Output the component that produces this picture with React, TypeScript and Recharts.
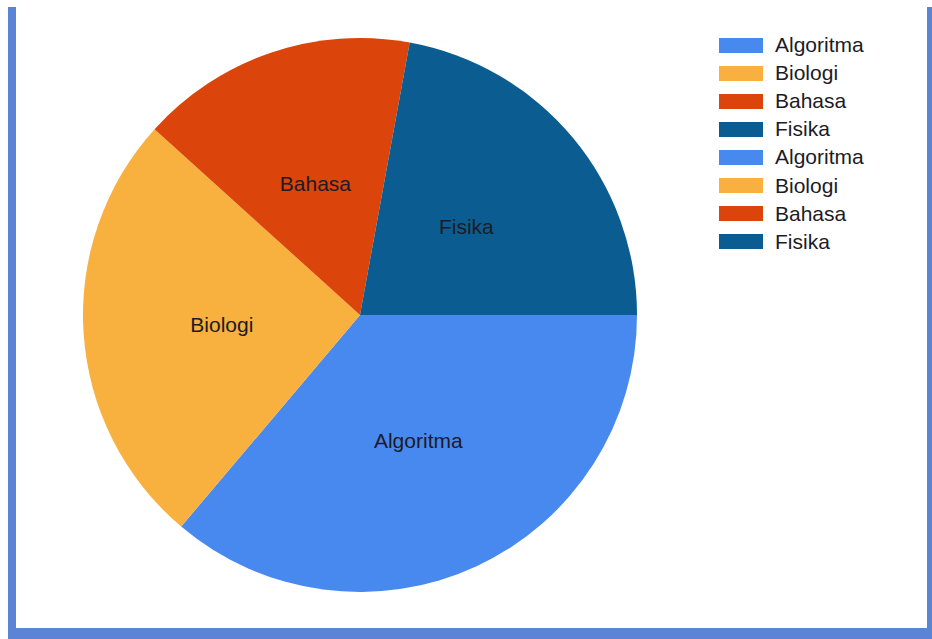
import { PieChart, Pie, Cell, Legend } from "recharts";

const subjects = ["Algoritma", "Biologi", "Bahasa", "Fisika"];
const scores = [85, 60, 38, 52];
const sliceColors = ["#4889F0", "#F8B03E", "#DB440B", "#0B5D91"];

// the legend in the picture lists every subject twice
const legendNames = [...subjects, ...subjects];
const legendColors = [...sliceColors, ...sliceColors];

const pieData = subjects.map((name, i) => ({ name, value: scores[i] }));

const FRAME = "#5B84D5";
const FONT = "'Liberation Sans', Arial, sans-serif";
const RAD = Math.PI / 180;

const renderLabel = (props: any) => {
  const { cx, cy, midAngle, outerRadius, name } = props;
  const r = outerRadius * 0.5;
  const x = cx + r * Math.cos(-midAngle * RAD);
  const y = cy + r * Math.sin(-midAngle * RAD);
  return (
    <text
      x={x}
      y={y}
      textAnchor="middle"
      dominantBaseline="central"
      fill="#1c1c24"
      fontSize={21}
      fontFamily={FONT}
    >
      {name}
    </text>
  );
};

const SubjectLegend = () => (
  <div style={{ fontFamily: FONT, fontSize: 21, color: "#1c1c24" }}>
    {legendNames.map((name, i) => (
      <div
        key={i}
        style={{ display: "flex", alignItems: "center", height: 28.1 }}
      >
        <span
          style={{
            display: "inline-block",
            width: 44,
            height: 15,
            backgroundColor: legendColors[i],
            marginRight: 12,
          }}
        />
        {name}
      </div>
    ))}
  </div>
);

export default function App() {
  return (
    <div
      style={{
        position: "absolute",
        left: 0,
        top: 0,
        width: 932,
        height: 639,
        background: "#ffffff",
        overflow: "hidden",
      }}
    >
      <PieChart
        width={932}
        height={639}
        margin={{ top: 0, right: 0, bottom: 0, left: 0 }}
      >
        <Pie
          data={pieData}
          dataKey="value"
          nameKey="name"
          cx={360}
          cy={315}
          outerRadius={277}
          startAngle={0}
          endAngle={-360}
          stroke="none"
          label={renderLabel}
          labelLine={false}
          isAnimationActive={false}
        >
          {pieData.map((d, i) => (
            <Cell key={d.name} fill={sliceColors[i]} />
          ))}
        </Pie>
        <Legend
          layout="vertical"
          align="right"
          verticalAlign="top"
          content={<SubjectLegend />}
          wrapperStyle={{ left: 719, top: 31, width: 160, right: "auto" }}
        />
      </PieChart>
      {/* window frame */}
      <div style={{ position: "absolute", left: 8, top: 7, width: 8, height: 632, background: FRAME }} />
      <div style={{ position: "absolute", left: 927, top: 7, width: 5, height: 632, background: FRAME }} />
      <div style={{ position: "absolute", left: 8, top: 628, width: 924, height: 11, background: FRAME }} />
    </div>
  );
}
